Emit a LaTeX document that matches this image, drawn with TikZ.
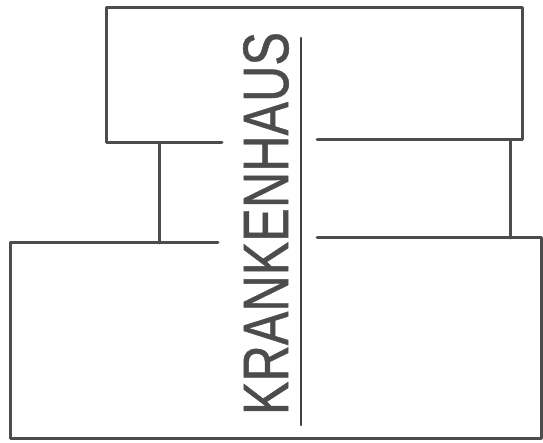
\documentclass[tikz,border=0pt]{standalone}
\usepackage{fontspec}
\newfontfamily\signfont{Liberation Sans}[FakeBold=0.8]
\usetikzlibrary{positioning}
\tikzset{
    wall/.style={line width=3pt, draw=black!70, line cap=round, line join=round},
    divider/.style={line width=2.2pt, draw=black!75, line cap=round}
}
\begin{document}
\begin{tikzpicture}[x=1pt, y=-1pt]
        \useasboundingbox (0,0) rectangle (543,443);

        % Corner points of the upper wing
        \coordinate (tl) at (106,8);
        \coordinate (tr) at (522,8);
        \coordinate (tbl) at (106,143);
        \coordinate (tbm) at (222,143);
        \coordinate (tbr) at (522,140);
        \coordinate (tbs) at (317,140);

        % Corner points of the lower wing
        \coordinate (bl) at (10,243);
        \coordinate (blm) at (218,243);
        \coordinate (bbl) at (10,438);
        \coordinate (bbr) at (541,438);
        \coordinate (brt) at (541,238);
        \coordinate (brs) at (317,238);

        % Draw upper wing
        \draw[wall] (tbm) -- (tbl) -- (tl) -- (tr) -- (tbr) -- (tbs);

        % Draw lower wing
        \draw[wall] (blm) -- (bl) -- (bbl) -- (bbr) -- (brt) -- (brs);

        % Draw corridors
        \draw[wall] (159,143) -- (159,243);
        \draw[wall] (510,140) -- (510,238);

        % Draw divider
        \coordinate (dtop) at (301,38);
        \coordinate (dbot) at (301,425);
        \draw[divider] (dtop) -- (dbot);

        % Name of the building
        \node[rotate=90, inner sep=0pt, text=black!70] (name) at (266,223.5)
            {\resizebox{383pt}{45pt}{\signfont KRANKENHAUS}};
    \end{tikzpicture}
\end{document}
